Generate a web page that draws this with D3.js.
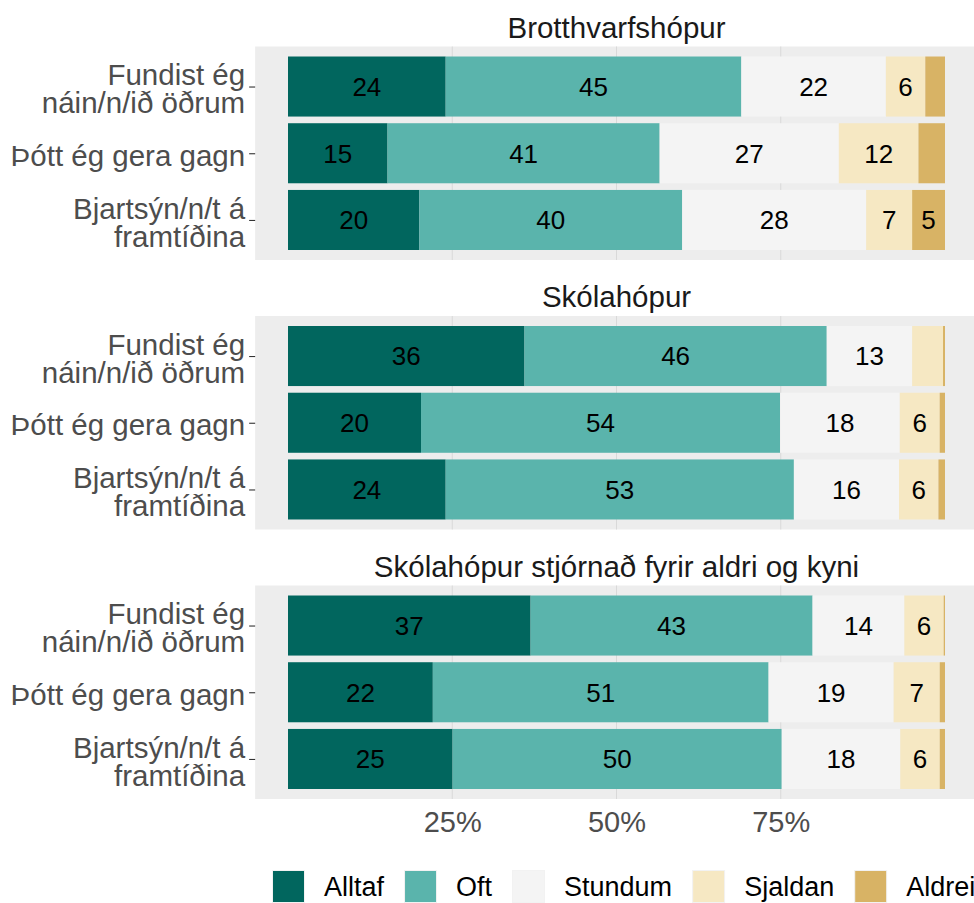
<!DOCTYPE html>
<html>
<head>
<meta charset="utf-8">
<script src="https://cdn.jsdelivr.net/npm/d3@7/dist/d3.min.js"></script>
<style>
  html, body { margin: 0; padding: 0; background: #ffffff; }
  svg { display: block; font-family: "Liberation Sans", Arial, Helvetica, sans-serif; }
</style>
</head>
<body>
<svg id="chart" width="974" height="903"></svg>
<script>
// Facet titles, statement rows, answer levels and their colours
const groups = ["Brotthvarfshópur", "Skólahópur", "Skólahópur stjórnað fyrir aldri og kyni"];
const statements = ["Fundist ég\nnáin/n/ið öðrum", "Þótt ég gera gagn", "Bjartsýn/n/t á\nframtíðina"];
const answers = ["Alltaf", "Oft", "Stundum", "Sjaldan", "Aldrei"];
const answerColors = ["#01665e", "#5ab4ac", "#f4f4f4", "#f6e8c3", "#d8b365"];
const xTicks = [0.25, 0.5, 0.75];

// Percentages per statement, in answer order (Alltaf .. Aldrei)
const brotthvarf = [
  [24, 45, 22, 6, 3],
  [15, 41, 27, 12, 4],
  [20, 40, 28, 7, 5]
];
const skola = [
  [36, 46, 13, 4.7, 0.3],
  [20, 54, 18, 6, 0.8],
  [24, 53, 16, 6, 1]
];
const skolaLeidrett = [
  [37, 43, 14, 6, 0.2],
  [22, 51, 19, 7, 0.8],
  [25, 50, 18, 6, 0.8]
];
const groupValues = [brotthvarf, skola, skolaLeidrett];
const labelMin = 5;

const svg = d3.select("#chart");

const x = d3.scaleLinear().domain([0, 1]).range([288, 945]);
const panelLeft = x(-0.05), panelRight = x(1.05);
const panelTop0 = 46.5, panelPitch = 269.5, panelHeight = 213.5;

const stack = d3.stack()
  .keys(answers)
  .offset(d3.stackOffsetExpand);

groups.forEach((title, gi) => {
  const top = panelTop0 + gi * panelPitch;
  const g = svg.append("g");

  const y = d3.scalePoint()
    .domain(statements)
    .range([top, top + panelHeight])
    .padding(0.6);
  const barH = y.step() * 0.9;

  // panel background
  g.append("rect")
    .attr("x", panelLeft).attr("y", top)
    .attr("width", panelRight - panelLeft).attr("height", panelHeight)
    .attr("fill", "#ededed");

  // vertical grid lines
  g.selectAll("line.grid").data(xTicks).join("line")
    .attr("class", "grid")
    .attr("x1", d => x(d)).attr("x2", d => x(d))
    .attr("y1", top).attr("y2", top + panelHeight)
    .attr("stroke", "#d9d9d9").attr("stroke-width", 1);

  // facet title
  g.append("text")
    .attr("x", (panelLeft + panelRight) / 2)
    .attr("y", top - 9)
    .attr("text-anchor", "middle")
    .attr("font-size", 29.5)
    .attr("fill", "#1a1a1a")
    .text(title);

  const rows = statements.map((s, i) => {
    const o = { statement: s };
    answers.forEach((a, j) => { o[a] = groupValues[gi][i][j]; });
    return o;
  });
  const series = stack(rows);

  series.forEach((ser, si) => {
    g.selectAll(null).data(ser).join("rect")
      .attr("x", d => x(d[0]))
      .attr("width", d => x(d[1]) - x(d[0]))
      .attr("y", d => y(d.data.statement) - barH / 2)
      .attr("height", barH)
      .attr("fill", answerColors[si]);

    g.selectAll(null).data(ser.filter(d => d.data[ser.key] >= labelMin)).join("text")
      .attr("x", d => (x(d[0]) + x(d[1])) / 2)
      .attr("y", d => y(d.data.statement))
      .attr("dy", "0.36em")
      .attr("text-anchor", "middle")
      .attr("font-size", 26)
      .attr("fill", "#000000")
      .text(d => Math.round(d.data[ser.key]));
  });

  // y axis with two-line labels
  const yAxis = g.append("g")
    .attr("transform", `translate(${panelLeft},0)`)
    .call(d3.axisLeft(y).tickSize(6).tickPadding(5).tickFormat(() => ""));
  yAxis.select(".domain").remove();
  yAxis.selectAll(".tick line").attr("stroke", "#333333").attr("stroke-width", 1.1);
  yAxis.selectAll(".tick").each(function (d) {
    const lines = d.split("\n");
    const t = d3.select(this).select("text")
      .attr("font-size", 29.5)
      .attr("fill", "#4d4d4d")
      .attr("font-family", null)
      .attr("x", -10)
      .attr("dy", null)
      .attr("text-anchor", "end");
    const lh = 28;
    lines.forEach((ln, k) => {
      t.append("tspan")
        .attr("x", -10)
        .attr("y", (k - (lines.length - 1) / 2) * lh + 1.5)
        .attr("dy", "0.36em")
        .text(ln);
    });
  });

  // x axis only under the last panel
  if (gi === groups.length - 1) {
    const xAxis = g.append("g")
      .attr("transform", `translate(0,${top + panelHeight})`)
      .call(d3.axisBottom(x).tickValues(xTicks).tickFormat(d3.format(".0%")).tickSize(0).tickPadding(12));
    xAxis.select(".domain").remove();
    xAxis.selectAll(".tick text")
      .attr("font-size", 29)
      .attr("font-family", null)
      .attr("fill", "#4d4d4d");
  }
});

// legend along the bottom
const legend = svg.append("g").attr("transform", "translate(272,870)");
let lx = 0;
answers.forEach((a, i) => {
  const item = legend.append("g").attr("transform", `translate(${lx},0)`);
  item.append("rect")
    .attr("x", 0.5).attr("y", 0.5)
    .attr("width", 32).attr("height", 32)
    .attr("fill", answerColors[i])
    .attr("stroke", "#f2f2f2").attr("stroke-width", 1);
  const t = item.append("text")
    .attr("x", 52).attr("y", 16.5)
    .attr("dy", "0.36em")
    .attr("font-size", 27)
    .attr("fill", "#000000")
    .text(a);
  lx += 52 + t.node().getComputedTextLength() + 20;
});
</script>
</body>
</html>
